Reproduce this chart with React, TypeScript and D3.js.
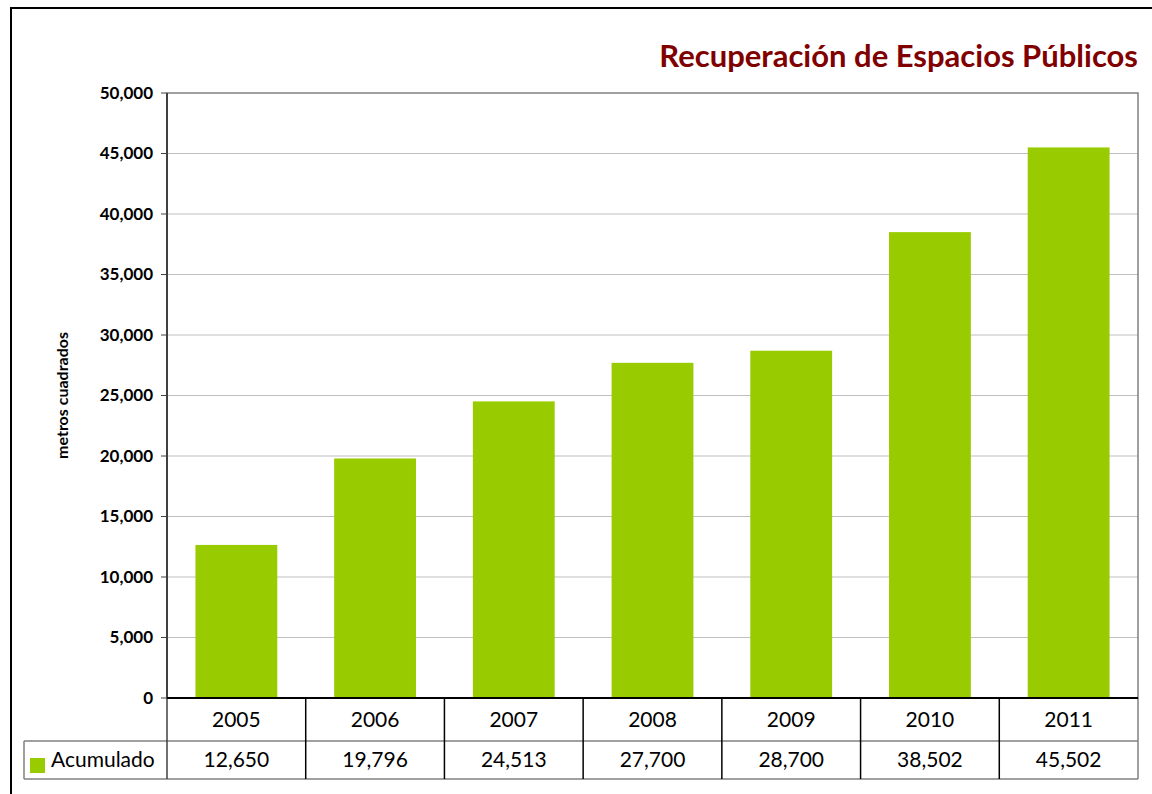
import * as d3 from "d3";

const years = ["2005", "2006", "2007", "2008", "2009", "2010", "2011"];
const acumulado = [12650, 19796, 24513, 27700, 28700, 38502, 45502];
const yTickValues = [0, 5000, 10000, 15000, 20000, 25000, 30000, 35000, 40000, 45000, 50000];
const seriesName = "Acumulado";
const title = "Recuperación de Espacios Públicos";
const yTitle = "metros cuadrados";

const W = 1152;
const H = 794;
const PLOT = { left: 167, right: 1138, top: 93, bottom: 698 };
const ROW1 = 741;
const ROW2 = 779;
const LEGEND_LEFT = 24;
const GREEN = "#99CC00";
const FONT = "Lato, 'Open Sans', sans-serif";

export default function App() {
  const x = d3.scaleBand<string>().domain(years).range([PLOT.left, PLOT.right]).paddingInner(0.41).paddingOuter(0.205);
  const cols = d3.scaleBand<string>().domain(years).range([PLOT.left, PLOT.right]);
  const y = d3.scaleLinear().domain([0, 50000]).range([PLOT.bottom, PLOT.top]);
  const fmt = d3.format(",");

  return (
    <svg width={W} height={H} style={{ position: "absolute", left: 0, top: 0, background: "#fff" }} fontFamily={FONT}>
      <rect x={0} y={0} width={W} height={H} fill="#fff" />
      {/* outer frame */}
      <rect x={11} y={8} width={W + 20} height={H + 20} fill="none" stroke="#000" strokeWidth={2} />

      <text x={PLOT.right} y={67} textAnchor="end" fontSize={31} fontWeight="bold" fill="#800000">
        {title}
      </text>

      {/* grid */}
      {yTickValues.map((t) => (
        <g key={t}>
          {t > 0 && t < 50000 && (
            <line x1={PLOT.left} x2={PLOT.right} y1={y(t)} y2={y(t)} stroke="#bfbfbf" strokeWidth={1} />
          )}
          <line x1={PLOT.left - 6} x2={PLOT.left} y1={y(t)} y2={y(t)} stroke="#404040" strokeWidth={1} />
          <text x={PLOT.left - 14} y={y(t)} dy="0.35em" textAnchor="end" fontSize={17} fontWeight="bold" fill="#000">
            {fmt(t)}
          </text>
        </g>
      ))}

      <rect
        x={PLOT.left}
        y={PLOT.top}
        width={PLOT.right - PLOT.left}
        height={PLOT.bottom - PLOT.top}
        fill="none"
        stroke="#808080"
        strokeWidth={1.5}
      />

      {years.map((yr, i) => (
        <rect key={yr} x={x(yr)} y={y(acumulado[i])} width={x.bandwidth()} height={y(0) - y(acumulado[i])} fill={GREEN} />
      ))}

      {/* left axis */}
      <line x1={PLOT.left} x2={PLOT.left} y1={PLOT.top} y2={PLOT.bottom} stroke="#404040" strokeWidth={2} />

      <text
        transform={`translate(68, ${(PLOT.top + PLOT.bottom) / 2}) rotate(-90)`}
        textAnchor="middle"
        fontSize={16}
        fontWeight="bold"
        fill="#000"
      >
        {yTitle}
      </text>

      {/* data table */}
      <g>
        <line x1={LEGEND_LEFT} x2={PLOT.right} y1={ROW1} y2={ROW1} stroke="#808080" strokeWidth={1.5} />
        <line x1={LEGEND_LEFT} x2={PLOT.right} y1={ROW2} y2={ROW2} stroke="#808080" strokeWidth={1.5} />
        <line x1={LEGEND_LEFT} x2={LEGEND_LEFT} y1={ROW1} y2={ROW2} stroke="#808080" strokeWidth={1.5} />
        <line x1={PLOT.left} x2={PLOT.left} y1={PLOT.bottom} y2={ROW2} stroke="#404040" strokeWidth={1.5} />
        <line x1={PLOT.right} x2={PLOT.right} y1={PLOT.bottom} y2={ROW2} stroke="#808080" strokeWidth={1.5} />
        <line x1={PLOT.left} x2={PLOT.right} y1={PLOT.bottom} y2={PLOT.bottom} stroke="#000" strokeWidth={2} />
        {years.slice(1).map((yr) => (
          <line key={yr} x1={cols(yr)} x2={cols(yr)} y1={PLOT.bottom} y2={ROW2} stroke="#000" strokeWidth={1.5} />
        ))}
        {years.map((yr, i) => (
          <g key={yr}>
            <text x={(cols(yr) ?? 0) + cols.bandwidth() / 2} y={(PLOT.bottom + ROW1) / 2} dy="0.35em" textAnchor="middle" fontSize={21} fill="#000">
              {yr}
            </text>
            <text x={(cols(yr) ?? 0) + cols.bandwidth() / 2} y={(ROW1 + ROW2) / 2} dy="0.35em" textAnchor="middle" fontSize={21} fill="#000">
              {fmt(acumulado[i])}
            </text>
          </g>
        ))}
        <rect x={30} y={758} width={15} height={15} fill={GREEN} />
        <text x={51} y={(ROW1 + ROW2) / 2} dy="0.35em" fontSize={21} fill="#000">
          {seriesName}
        </text>
      </g>
    </svg>
  );
}
